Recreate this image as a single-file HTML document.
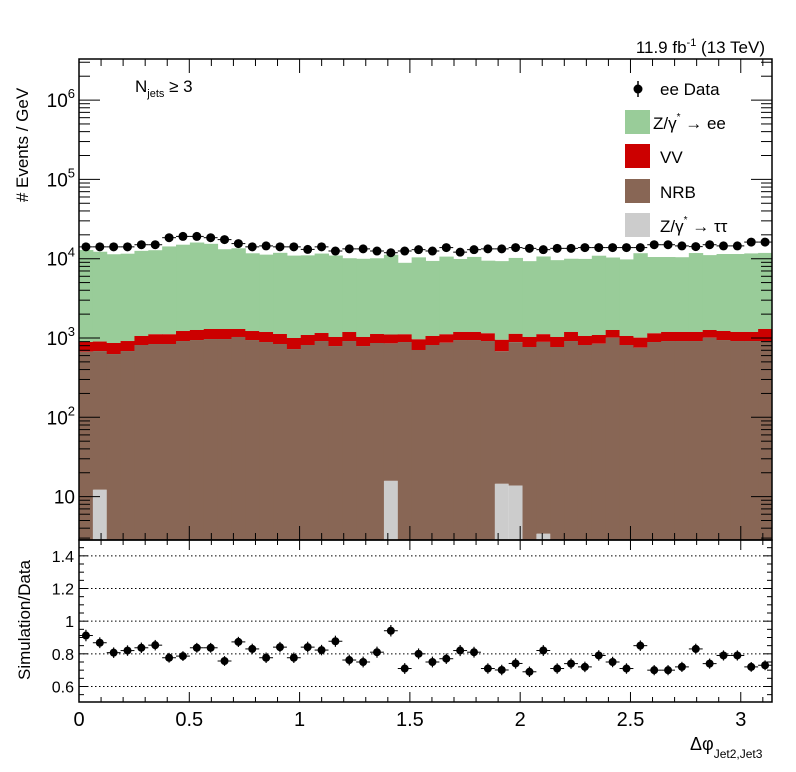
<!DOCTYPE html>
<html><head><meta charset="utf-8"><style>
html,body{margin:0;padding:0;background:#fff;}
svg{display:block;font-family:"Liberation Sans",Arial,sans-serif;}
</style></head><body>
<svg id="chart" width="796" height="772" viewBox="0 0 796 772" xmlns="http://www.w3.org/2000/svg">
<rect width="796" height="772" fill="#fff"/>
<g id="main-marks"></g>
<g id="ratio-marks"></g>
<g id="axes"></g>
<text x="765" y="53" font-size="17" text-anchor="end">11.9 fb<tspan dy="-7" font-size="11">-1</tspan><tspan dy="7"> (13 TeV)</tspan></text>
<text x="135" y="92" font-size="17">N<tspan dy="5" font-size="11">jets</tspan><tspan dy="-5"> ≥ 3</tspan></text>
<g>
  <g>
    <line x1="638" y1="81" x2="638" y2="97" stroke="#000" stroke-width="1.5"/>
    <circle cx="638" cy="89" r="4.5" fill="#000"/>
    <text x="660" y="95" font-size="17">ee Data</text>
  </g>
  <g>
    <rect x="625" y="110" width="25" height="24" fill="#99cc99"/>
    <text x="653" y="129" font-size="17">Z/γ<tspan dy="-9" font-size="10">*</tspan><tspan dy="9"> → ee</tspan></text>
  </g>
  <g>
    <rect x="625" y="144" width="25" height="24" fill="#cc0000"/>
    <text x="660" y="163" font-size="17">VV</text>
  </g>
  <g>
    <rect x="625" y="179" width="25" height="24" fill="#886655"/>
    <text x="660" y="198" font-size="17">NRB</text>
  </g>
  <g>
    <rect x="625" y="213" width="25" height="24" fill="#cccccc"/>
    <text x="660" y="232" font-size="17">Z/γ<tspan dy="-9" font-size="10">*</tspan><tspan dy="9"> → ττ</tspan></text>
  </g>
</g>
<text transform="translate(28,145) rotate(-90)" font-size="17" text-anchor="middle"># Events / GeV</text>
<text transform="translate(30,620) rotate(-90)" font-size="17" text-anchor="middle">Simulation/Data</text>
<text x="690" y="750" font-size="18">Δφ<tspan dy="8" font-size="12">Jet2,Jet3</tspan></text>
</svg>
<script>
const nBins = 50;
const dataVals = [14100,14100,14100,14100,15000,15000,18400,19100,19100,18400,17400,15500,14100,14500,14100,14100,13100,14100,12500,13300,13300,12500,11900,12500,13000,12500,13800,12100,13000,13300,13300,13800,13500,13000,13500,13500,13800,13800,13800,13800,13800,15000,15000,14500,14200,15000,14500,14500,16200,16200];
const nrbVals = [672,672,628,685,816,840,840,916,943,971,971,1030,943,890,840,726,816,916,792,916,792,865,840,890,706,816,873,943,943,916,666,873,770,890,770,916,816,848,1010,816,755,890,916,916,916,1010,943,916,916,916];
const vvVals = [218,218,237,231,244,274,274,309,319,328,328,269,282,300,283,274,275,240,238,274,238,258,251,223,256,244,240,248,248,229,268,240,260,223,260,275,244,243,252,244,255,255,275,275,275,252,283,275,275,383];
const zeeVals = [11970,11335,10515,10644,11495,11681,13164,13788,14725,14102,11855,12233,10478,10062,10735,9942,9926,10448,9933,8945,8945,9002,10095,7762,9438,8315,9513,8731,9339,8298,8376,9099,8285,9547,8555,8799,8876,9811,9088,8738,10720,9355,9309,9249,10595,9838,10229,10264,10473,10527];
const tautauVals = [0,12.2,0,0,0,0,0,0,0,0,0,0,0,0,0,0,0,0,0,0,0,0,15.8,0,0,0,0,0,0,0,14.5,13.8,0,3.4,0,0,0,0,0,0,0,0,0,0,0,0,0,0,0,0];
const ratioErrVals = [0.035,0.033,0.032,0.032,0.032,0.032,0.03,0.03,0.03,0.03,0.03,0.031,0.032,0.032,0.032,0.032,0.033,0.032,0.034,0.033,0.033,0.034,0.035,0.033,0.033,0.033,0.032,0.034,0.033,0.032,0.032,0.032,0.032,0.033,0.032,0.032,0.032,0.032,0.032,0.032,0.032,0.031,0.031,0.031,0.032,0.031,0.031,0.031,0.03,0.03];
const yMajorLabels = ["10","10²","10³","10⁴","10⁵","10⁶"];
const xTickLabels = ["0","0.5","1","1.5","2","2.5","3"];
const ratioTickLabels = ["0.6","0.8","1","1.2","1.4"];

const NS = "http://www.w3.org/2000/svg";
const X0 = 79, X1 = 772, XMAX = Math.PI;
const MT = 59, MB = 540, LOGMIN = 0.453, LOGMAX = 6.518;
const RT = 540, RB = 702, RMIN = 0.505, RMAX = 1.497;
function xs(v){ return X0 + v / XMAX * (X1 - X0); }
function ys(v){ const l = Math.log10(Math.max(v, 1e-3)); return MB - (l - LOGMIN) / (LOGMAX - LOGMIN) * (MB - MT); }
function yr(v){ return RB - (v - RMIN) / (RMAX - RMIN) * (RB - RT); }
function mk(tag, attrs, parent){ const e = document.createElementNS(NS, tag); for (const k in attrs) e.setAttribute(k, attrs[k]); parent.appendChild(e); return e; }
const main = document.getElementById('main-marks');
const ratio = document.getElementById('ratio-marks');
const axes = document.getElementById('axes');
const bw = XMAX / nBins;
const clipMB = v => Math.min(MB, ys(v));

for (let i = 0; i < nBins; i++) {
  const xa = xs(i * bw), xb = xs((i + 1) * bw);
  const c1 = tautauVals[i], c2 = c1 + nrbVals[i], c3 = c2 + vvVals[i], c4 = c3 + zeeVals[i];
  const layers = [[c3, c4, '#99cc99', 'zee-bar'], [c2, c3, '#cc0000', 'vv-bar'], [c1, c2, '#886655', 'nrb-bar']];
  for (const [lo, hi, col, nm] of layers) {
    const yt = ys(hi), yb = lo > 0 ? clipMB(lo) : MB;
    const r = mk('rect', {x: xa, y: yt, width: xb - xa + 0.5, height: Math.max(0, yb - yt), fill: col}, main);
    
    
  }
  if (c1 > 0) {
    const yt = ys(c1);
    const r = mk('rect', {x: xa, y: yt, width: xb - xa, height: Math.max(0, MB - yt), fill: '#cccccc'}, main);
    
    
  }
}
for (let i = 0; i < nBins; i++) {
  const xc = xs((i + 0.5) * bw), xa = xs(i * bw), xb = xs((i + 1) * bw);
  const d = dataVals[i], e = Math.sqrt(d) * 1.0;
  const g = mk('g', {}, main);
  
  
  mk('line', {x1: xa, x2: xb, y1: ys(d), y2: ys(d), stroke: '#000', 'stroke-width': 1}, g);
  mk('line', {x1: xc, x2: xc, y1: ys(d + e), y2: ys(d - e), stroke: '#000', 'stroke-width': 1}, g);
  mk('circle', {cx: xc, cy: ys(d), r: 4.5, fill: '#000'}, g);

  const tot = tautauVals[i] + nrbVals[i] + vvVals[i] + zeeVals[i];
  const rv = tot / d, re = ratioErrVals[i];
  const rg = mk('g', {}, ratio);
  
  
  mk('line', {x1: xa, x2: xb, y1: yr(rv), y2: yr(rv), stroke: '#000', 'stroke-width': 1}, rg);
  mk('line', {x1: xc, x2: xc, y1: yr(rv + re), y2: yr(rv - re), stroke: '#000', 'stroke-width': 1.2}, rg);
  mk('circle', {cx: xc, cy: yr(rv), r: 4, fill: '#000'}, rg);
}
// ratio grid lines
ratioTickLabels.forEach((t) => {
  const v = parseFloat(t), y = yr(v);
  const l = mk('line', {x1: X0, x2: X1, y1: y, y2: y, stroke: '#000', 'stroke-width': 1, 'stroke-dasharray': '1.5,2.5'}, axes);
  
  
  const tx = mk('text', {x: X0 - 5, y: y + 6, 'font-size': 16, 'text-anchor': 'end'}, axes);
  tx.textContent = t;
  
  
});
for (let v = 0.55; v < RMAX; v += 0.05) {
  const y = yr(v), major = Math.abs(v * 5 - Math.round(v * 5)) < 0.01;
  const L = major ? 9 : 5;
  mk('line', {x1: X0, x2: X0 + L, y1: y, y2: y, stroke: '#000'}, axes);
  mk('line', {x1: X1, x2: X1 - L, y1: y, y2: y, stroke: '#000'}, axes);
}
// main y ticks
for (let dec = 0; dec <= 6; dec++) {
  for (let m = 1; m <= 9; m++) {
    const v = m * Math.pow(10, dec), l = Math.log10(v);
    if (l < LOGMIN || l > LOGMAX) continue;
    const y = ys(v), L = m === 1 ? 21 : 11;
    mk('line', {x1: X0, x2: X0 + L, y1: y, y2: y, stroke: '#000'}, axes);
    mk('line', {x1: X1, x2: X1 - L, y1: y, y2: y, stroke: '#000'}, axes);
  }
}
yMajorLabels.forEach((t, k) => {
  const y = ys(Math.pow(10, k + 1));
  const tx = mk('text', {x: X0 - 4, y: y + 7, 'font-size': 19, 'text-anchor': 'end'}, axes);
  if (k === 0) tx.textContent = t;
  else { tx.textContent = '10'; const s = mk('tspan', {dy: -9, 'font-size': 13}, tx); s.textContent = String(k + 1); }
  
  
});
// x ticks
for (let k = 0; k <= 31; k++) {
  const v = k * 0.1; if (v > XMAX) break;
  const x = xs(v), major = k % 5 === 0;
  const Lm = major ? 14 : 7, Lr = major ? 10 : 5;
  mk('line', {x1: x, x2: x, y1: MT, y2: MT + Lm, stroke: '#000'}, axes);
  mk('line', {x1: x, x2: x, y1: MB, y2: MB - Lm, stroke: '#000'}, axes);
  mk('line', {x1: x, x2: x, y1: RT, y2: RT + Lr, stroke: '#000'}, axes);
  mk('line', {x1: x, x2: x, y1: RB, y2: RB - Lr, stroke: '#000'}, axes);
}
xTickLabels.forEach((t) => {
  const tx = mk('text', {x: xs(parseFloat(t)), y: 726, 'font-size': 20, 'text-anchor': 'middle'}, axes);
  tx.textContent = t;
  
  
});
const f1 = mk('rect', {x: X0, y: MT, width: X1 - X0, height: MB - MT, fill: 'none', stroke: '#000', 'stroke-width': 1.5}, axes);


const f2 = mk('rect', {x: X0, y: RT, width: X1 - X0, height: RB - RT, fill: 'none', stroke: '#000', 'stroke-width': 1.5}, axes);


</script>
</body></html>
